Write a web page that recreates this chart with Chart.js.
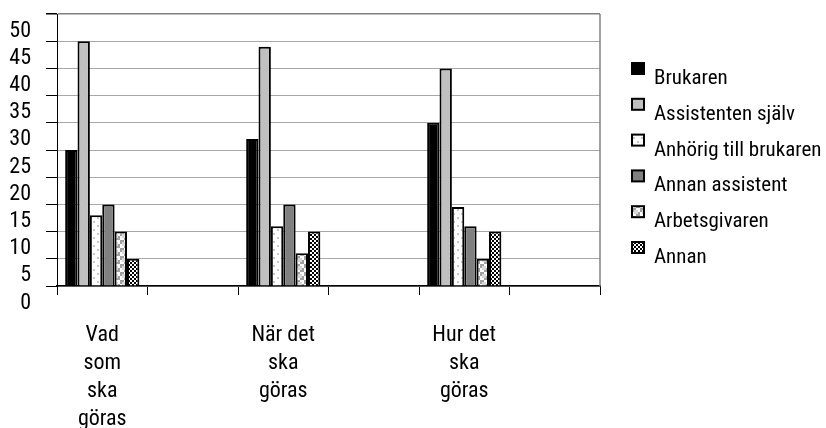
<!DOCTYPE html>
<html>
<head>
<meta charset="utf-8">
<script src="https://cdn.jsdelivr.net/npm/chart.js@4"></script>
<style>
  html, body { margin: 0; padding: 0; background: #fff; }
  #wrap { width: 826px; height: 428px; }
</style>
</head>
<body>
<div id="wrap"><canvas id="diagram"></canvas></div>
<script>
// Kategorier (tomma platser mellan grupperna, som i originalet)
const kategorier = [["Vad", "som", "ska", "göras"], "", ["När det", "ska", "göras"], "", ["Hur det", "ska", "göras"], ""];
const serier = ["Brukaren", "Assistenten själv", "Anhörig till brukaren", "Annan assistent", "Arbetsgivaren", "Annan"];

const brukaren = [25, null, 27, null, 30, null];
const assistentenSjalv = [45, null, 44, null, 40, null];
const anhorig = [13, null, 11, null, 14.5, null];
const annanAssistent = [15, null, 15, null, 11, null];
const arbetsgivaren = [10, null, 6, null, 5, null];
const annan = [5, null, 10, null, 10, null];

const yTicks = [0, 5, 10, 15, 20, 25, 30, 35, 40, 45, 50];

// smal stil via font-stretch (läggs i weight-fältet så att Chart.js släpper igenom den)
const FAMILJ = "Roboto, 'DejaVu Sans Condensed', sans-serif";
const SMAL = "condensed";

// mönster för fyllningarna
function monster(size, rita) {
  const c = document.createElement("canvas");
  c.width = size; c.height = size;
  const g = c.getContext("2d");
  rita(g);
  return g.createPattern(c, "repeat");
}
const prickar = monster(8, g => {
  g.fillStyle = "#fff"; g.fillRect(0, 0, 8, 8);
  g.fillStyle = "#c8c8c8";
  g.fillRect(1, 1, 2, 2);
  g.fillRect(5, 5, 2, 2);
});
const rutor = monster(8, g => {
  g.fillStyle = "#fff"; g.fillRect(0, 0, 8, 8);
  g.fillStyle = "#a0a0a0";
  g.fillRect(0, 0, 4, 4);
  g.fillRect(4, 4, 4, 4);
  g.fillStyle = "#d8d8d8";
  g.fillRect(2, 2, 4, 4);
});
const schack = monster(4, g => {
  g.fillStyle = "#fff"; g.fillRect(0, 0, 4, 4);
  g.fillStyle = "#000";
  g.fillRect(0, 0, 2, 2);
  g.fillRect(2, 2, 2, 2);
});

const fyllningar = ["#000000", "#c0c0c0", prickar, "#808080", rutor, schack];
const varden = [brukaren, assistentenSjalv, anhorig, annanAssistent, arbetsgivaren, annan];

// egen legend och ram till höger
const ramOchLegend = {
  id: "ramOchLegend",
  afterDraw(chart) {
    const ctx = chart.ctx;
    const a = chart.chartArea;
    ctx.save();
    ctx.strokeStyle = "#808080";
    ctx.lineWidth = 1.5;
    ctx.beginPath();
    ctx.moveTo(a.right, a.top);
    ctx.lineTo(a.right, a.bottom);
    ctx.stroke();

    ctx.font = SMAL + " 21px " + FAMILJ;
    ctx.textBaseline = "alphabetic";
    chart.data.datasets.forEach((ds, i) => {
      const yb = 84 + i * 35.8;
      ctx.fillStyle = ds.backgroundColor;
      ctx.fillRect(632, yb - 21, 12, 11);
      ctx.strokeStyle = "#000";
      ctx.lineWidth = 2;
      ctx.strokeRect(632, yb - 21, 12, 11);
      ctx.fillStyle = "#000";
      ctx.fillText(ds.label, 654, yb);
    });
    ctx.restore();
  }
};

new Chart(document.getElementById("diagram"), {
  type: "bar",
  data: {
    labels: kategorier,
    datasets: serier.map((namn, i) => ({
      label: namn,
      data: varden[i],
      backgroundColor: fyllningar[i],
      borderColor: "#000",
      borderWidth: 2,
      barPercentage: 1,
      categoryPercentage: 0.82
    }))
  },
  options: {
    responsive: true,
    maintainAspectRatio: false,
    animation: false,
    layout: { padding: { top: 14, right: 226, left: 0, bottom: 0 } },
    plugins: {
      legend: { display: false },
      tooltip: { enabled: false }
    },
    scales: {
      x: {
        afterFit: s => { s.height = 142; s.paddingLeft = 0; s.paddingRight = 0; },
        border: { color: "#000", width: 1.5 },
        grid: { drawOnChartArea: false, offset: true, tickLength: 9, color: "#000" },
        ticks: {
          color: "#000", padding: 27, maxRotation: 0, autoSkip: false,
          font: { family: FAMILJ, weight: SMAL, size: 22, lineHeight: 1.27 }
        }
      },
      y: {
        min: 0, max: 50,
        afterFit: s => { s.width = 57; s.paddingTop = 0; s.paddingBottom = 0; },
        afterBuildTicks: s => { s.ticks = yTicks.map(v => ({ value: v })); },
        border: { color: "#000", width: 1 },
        grid: {
          color: c => c.tick && c.tick.value === 50 ? "#808080" : "#a8a8a8",
          lineWidth: c => c.tick && c.tick.value === 50 ? 1.5 : 1,
          tickColor: "#000", tickLength: 11
        },
        ticks: {
          color: "#000", padding: 15, labelOffset: 17, autoSkip: false,
          font: { family: FAMILJ, weight: SMAL, size: 22 }
        }
      }
    }
  },
  plugins: [ramOchLegend]
});
</script>
</body>
</html>
